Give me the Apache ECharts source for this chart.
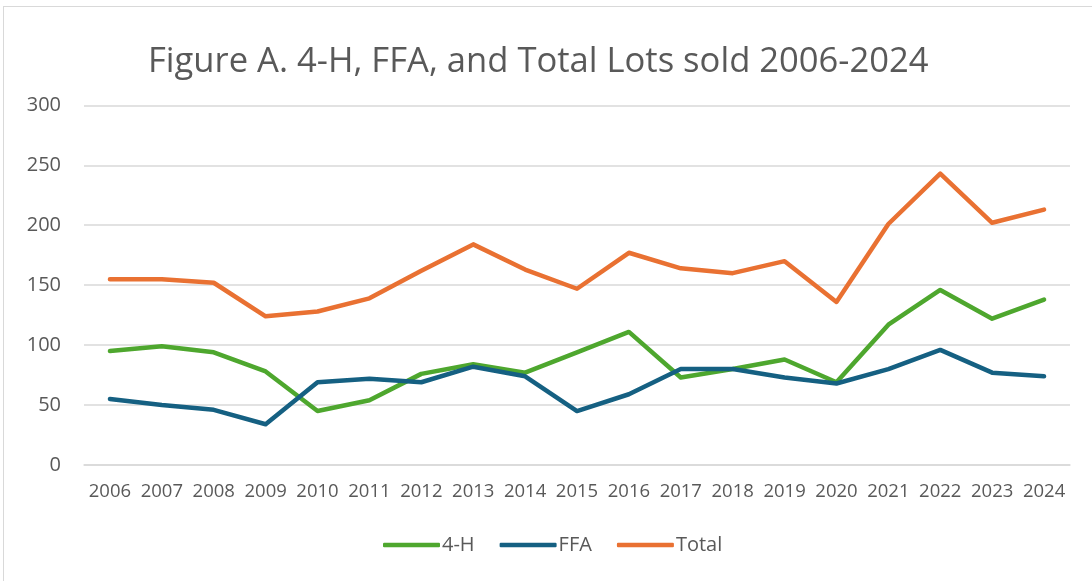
<!DOCTYPE html>
<html>
<head>
<meta charset="utf-8">
<script src="https://cdn.jsdelivr.net/npm/echarts@6/dist/echarts.min.js"></script>
<style>
html,body{margin:0;padding:0;background:#fff;}
#frame{position:absolute;left:3px;top:6px;width:1100px;height:600px;border:1px solid #d9d9d9;box-sizing:border-box;}
#chart{position:absolute;left:0;top:0;width:1092px;height:581px;}
</style>
</head>
<body>
<div id="frame"></div>
<div id="chart"></div>
<script>
const categories = ['2006','2007','2008','2009','2010','2011','2012','2013','2014','2015','2016','2017','2018','2019','2020','2021','2022','2023','2024'];
const fourH = [95,99,94,78,45,54,76,84,77,94,111,73,80,88,69,117,146,122,138];
const ffa = [55,50,46,34,69,72,69,82,74,45,59,80,80,73,68,80,96,77,74];
const total = [155,155,152,124,128,139,162,184,163,147,177,164,160,170,136,201,243,202,213];
const yTicks = [0,50,100,150,200,250,300];

const font = 'Open Sans';
const chart = echarts.init(document.getElementById('chart'));
chart.setOption({
  animation:false,
  title:{text:'Figure A. 4-H, FFA, and Total Lots sold 2006-2024',left:143,top:40,
    textStyle:{fontFamily:font,fontSize:34.6,fontWeight:'normal',color:'#595959'}},
  grid:{left:84,right:22,top:105.3,bottom:116},
  legend:{bottom:21,left:378,itemWidth:57,itemHeight:4.5,itemGap:25,
    icon:'roundRect',
    textStyle:{fontFamily:font,fontSize:20,color:'#595959',padding:[0,0,0,-3]},
    data:['4-H','FFA','Total']},
  xAxis:{type:'category',data:categories,boundaryGap:true,
    axisLine:{lineStyle:{color:'#d9d9d9',width:1.5}},axisTick:{show:false},
    axisLabel:{interval:0,hideOverlap:false,fontFamily:font,fontSize:18.5,color:'#595959',margin:17}},
  yAxis:{type:'value',min:yTicks[0],max:yTicks[yTicks.length-1],interval:50,
    axisLine:{show:false},axisTick:{show:false},
    splitLine:{lineStyle:{color:'#d9d9d9',width:1.5}},
    axisLabel:{fontFamily:font,fontSize:20,color:'#595959',margin:23}},
  series:[
    {name:'4-H',type:'line',data:fourH,symbol:'none',lineStyle:{width:4.5,color:'#4EA72E',cap:'round',join:'round'},itemStyle:{color:'#4EA72E'}},
    {name:'FFA',type:'line',data:ffa,symbol:'none',lineStyle:{width:4.5,color:'#156082',cap:'round',join:'round'},itemStyle:{color:'#156082'}},
    {name:'Total',type:'line',data:total,symbol:'none',lineStyle:{width:4.5,color:'#E97132',cap:'round',join:'round'},itemStyle:{color:'#E97132'}}
  ]
});
</script>
</body>
</html>
